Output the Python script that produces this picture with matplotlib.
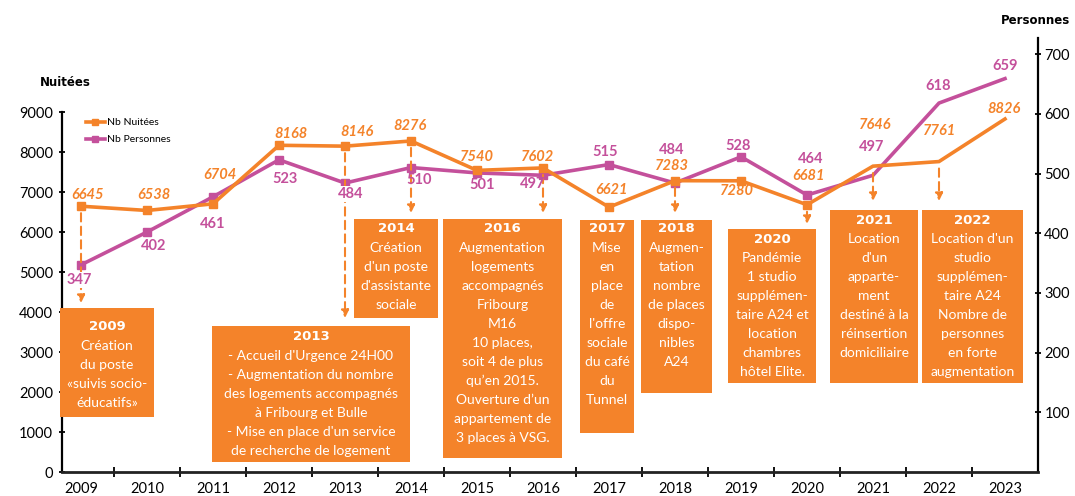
import matplotlib
matplotlib.use("Agg")
import matplotlib.pyplot as plt
from matplotlib.patches import Rectangle
from matplotlib.lines import Line2D

# ---------------- data ----------------
years = list(range(2009, 2024))
nuitees = [6645, 6538, 6704, 8168, 8146, 8276, 7540, 7602, 6621, 7283, 7280, 6681, 7646, 7761, 8826]
personnes = [347, 402, 461, 523, 484, 510, 501, 497, 515, 484, 528, 464, 497, 618, 659]
left_ticks = list(range(0, 10000, 1000))
right_ticks = list(range(100, 800, 100))

# label offsets (pixels) relative to the points
off_n = [(7, 11), (7, 15), (7, 29), (12, 11), (12, 14), (-1, 15), (0, 13), (-5, 11),
         (3, 17), (-3, 15), (-4, -10), (2, 29), (2, 41), (1, 31), (-1, 10)]
off_p = [(-2, -15), (7, -14), (0, -27), (6, -19), (6, -11), (8, -12), (5, -12), (-10, -9),
         (-4, 13), (-3, 33), (-3, 11), (4, 36), (-1, 28), (-1, 17), (0, 13)]
masked_p = [0, 4]

ORANGE = "#F4832A"
PINK = "#C4509B"
W, H = 1075, 496
BODY = ["Lato", "DejaVu Sans"]
HEAVY = ["DejaVu Sans"]


def fx(px):
    return px / W


def fy(py):
    return 1 - py / H


fig = plt.figure(figsize=(W / 100, H / 100), dpi=100)
ax = fig.add_axes([fx(62), fy(472), fx(1038) - fx(62), fy(38) - fy(472)])
ax2 = ax.twinx()
ax.set_zorder(2)
ax2.set_zorder(1)
ax.patch.set_visible(False)

x = list(range(len(years)))
ax.set_xlim(-0.288, 14.5)
ax.set_ylim(0, 10850)
ax2.set_ylim(0, 727)

mk = list(range(12))
ax2.plot(x, personnes, color=PINK, lw=2.6, marker="s", ms=5.5, markevery=mk,
         solid_joinstyle="miter", zorder=3)
ax.plot(x, nuitees, color=ORANGE, lw=2.6, marker="s", ms=5.5, markevery=mk,
        solid_joinstyle="miter", zorder=3)

for i, v in enumerate(nuitees):
    ax.annotate(str(v), (i, v), xytext=off_n[i], textcoords="offset pixels",
                ha="center", va="center", color=ORANGE, fontsize=10.5,
                fontweight="bold", fontstyle="italic", family=BODY, zorder=4)

# dashed arrows from points down to boxes
arrows = [(0, 303), (4, 318), (5, 213), (7, 213), (8, 213), (9, 213), (11, 224),
          (12, 201), (13, 201)]
for i, tip in arrows:
    ax.annotate("", xy=(i, fy(tip)), xycoords=("data", "figure fraction"),
                xytext=(i, nuitees[i]), textcoords="data",
                arrowprops=dict(arrowstyle="-|>,head_length=0.45,head_width=0.22",
                                color=ORANGE, lw=1.5, linestyle=(0, (4, 2.5)),
                                shrinkA=5, shrinkB=0), zorder=2)

for i, v in enumerate(personnes):
    kw = {}
    if i in masked_p:
        kw["bbox"] = dict(boxstyle="square,pad=0.05", facecolor="white", edgecolor="none")
    ax.annotate(str(v), (i, v), xycoords=ax2.transData, xytext=off_p[i],
                textcoords="offset pixels", ha="center", va="center", color=PINK,
                fontsize=10.5, fontweight="bold", family=BODY, zorder=5, **kw)

# ---------------- axes styling ----------------
for s in ["top", "right"]:
    ax.spines[s].set_visible(False)
for s in ["top", "left", "bottom"]:
    ax2.spines[s].set_visible(False)
ax.spines["left"].set_bounds(0, 9000)
ax.spines["left"].set_linewidth(1.6)
ax.spines["bottom"].set_linewidth(2.0)
ax.spines["bottom"].set_color("#222222")
ax2.spines["right"].set_linewidth(1.6)

ax.set_xticks(x)
ax.set_xticklabels([str(y) for y in years])
ax.set_xticks([i + 0.5 for i in range(14)], minor=True)
ax.tick_params(axis="x", which="major", length=0, pad=7, labelsize=10.5)
ax.tick_params(axis="x", which="minor", direction="inout", length=7, width=1.3)
ax.set_yticks(left_ticks)
ax.tick_params(axis="y", direction="inout", length=5, width=1.3, pad=4, labelsize=10.5)
ax2.set_yticks(right_ticks)
ax2.tick_params(axis="y", direction="inout", length=5, width=1.3, pad=2, labelsize=10.5)
for lab in ax.get_xticklabels() + ax.get_yticklabels() + ax2.get_yticklabels():
    lab.set_family(BODY)

fig.text(fx(65), fy(83), "Nuitées", ha="center", va="center", fontsize=8.5,
         fontweight="bold", family=HEAVY)
fig.text(fx(1036), fy(20), "Personnes", ha="center", va="center", fontsize=8.5,
         fontweight="bold", family=HEAVY)

# legend
handles = [Line2D([], [], color=ORANGE, lw=2.6, marker="s", ms=5),
           Line2D([], [], color=PINK, lw=2.6, marker="s", ms=5)]
leg = fig.legend(handles, ["Nb Nuitées", "Nb Personnes"], loc="upper left",
                 bbox_to_anchor=(fx(86), fy(118)), frameon=False,
                 handlelength=1.8, handletextpad=0.2, labelspacing=0.75,
                 borderaxespad=0, borderpad=0, prop={"family": BODY, "size": 7.5})

# ---------------- annotation boxes ----------------
boxes = [
    (60, 308, 154, 417, 327, "2009", ["Création", "du poste", "«suivis socio-", "éducatifs»"]),
    (212, 326, 410, 462, 337, "2013", ["- Accueil d'Urgence 24H00", "- Augmentation du nombre",
                                       "des logements accompagnés", "à Fribourg et Bulle",
                                       "- Mise en place d'un service", "de recherche de logement"]),
    (354, 219, 438, 318, 229, "2014", ["Création", "d'un poste", "d'assistante", "sociale"]),
    (443, 219, 562, 458, 229, "2016", ["Augmentation", "logements", "accompagnés", "Fribourg",
                                       "M16", "10 places,", "soit 4 de plus", "qu’en 2015.",
                                       "Ouverture d’un", "appartement de", "3 places à VSG."]),
    (580, 220, 634, 433, 229, "2017", ["Mise", "en", "place", "de", "l'offre", "sociale",
                                       "du café", "du", "Tunnel"]),
    (641, 220, 712, 393, 229, "2018", ["Augmen-", "tation", "nombre", "de places", "dispo-",
                                       "nibles", "A24"]),
    (728, 229, 816, 383, 239, "2020", ["Pandémie", "1 studio", "supplémen-", "taire A24 et",
                                       "location", "chambres", "hôtel Elite."]),
    (830, 210, 918, 383, 220, "2021", ["Location", "d'un", "apparte-", "ment", "destiné à la",
                                       "réinsertion", "domiciliaire"]),
    (922, 210, 1023, 383, 220, "2022", ["Location d'un", "studio", "supplémen-", "taire A24",
                                        "Nombre de", "personnes", "en forte", "augmentation"]),
]
for (x0, y0, x1, y1, ty, title, lines) in boxes:
    fig.add_artist(Rectangle((fx(x0), fy(y1)), fx(x1) - fx(x0), fy(y0) - fy(y1),
                             transform=fig.transFigure, facecolor=ORANGE,
                             edgecolor="none", zorder=5))
    cx = fx((x0 + x1) / 2)
    fig.text(cx, fy(ty), title, ha="center", va="center", color="white",
             fontsize=9.5, fontweight="bold", family=HEAVY, zorder=6)
    for k, ln in enumerate(lines):
        fig.text(cx, fy(ty + 19 * (k + 1)), ln, ha="center", va="center",
                 color="white", fontsize=10, family=BODY, zorder=6)

fig.savefig("out.png", dpi=100)
